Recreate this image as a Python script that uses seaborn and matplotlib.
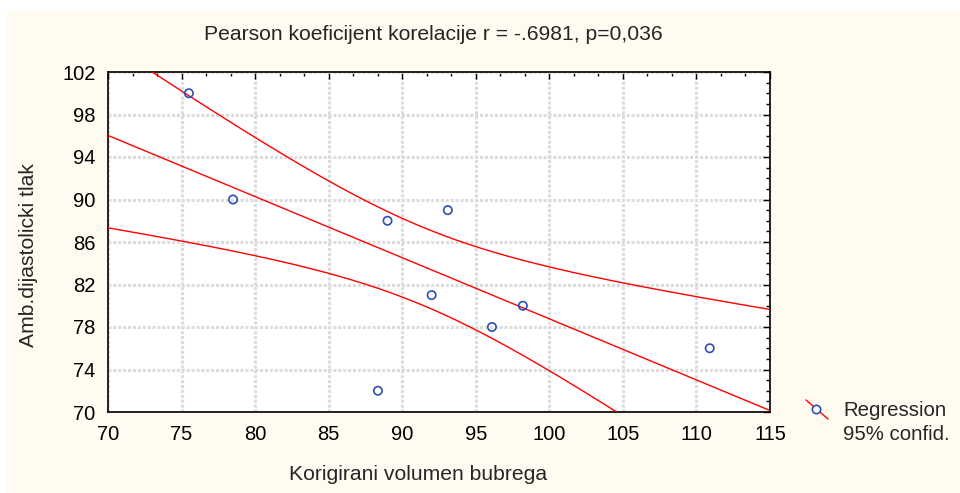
import numpy as np
import pandas as pd
import matplotlib
matplotlib.use("Agg")
import matplotlib.pyplot as plt
from matplotlib.lines import Line2D
from matplotlib.patches import Rectangle
from matplotlib.ticker import MultipleLocator
import seaborn as sns

# --- DATA ---
volumen = [75.5, 78.5, 89.0, 93.1, 88.35, 92.0, 96.1, 98.2, 110.9]
tlak = [100, 90, 88, 89, 72, 81, 78, 80, 76]
x_ticks = [70, 75, 80, 85, 90, 95, 100, 105, 110, 115]
y_ticks = [70, 74, 78, 82, 86, 90, 94, 98, 102]
# band half-width multiplier, matched to the curves as drawn in the reference
BAND_K = 1.66

sns.set_style("white")
plt.rcParams['font.family'] = ['Liberation Sans', 'DejaVu Sans']

df = pd.DataFrame({'x': volumen, 'y': tlak})

# linear fit + band around the mean
n = len(df)
xm, ym = df.x.mean(), df.y.mean()
sxx = ((df.x - xm) ** 2).sum()
b = ((df.x - xm) * (df.y - ym)).sum() / sxx
a = ym - b * xm
s = np.sqrt(((df.y - (a + b * df.x)) ** 2).sum() / (n - 2))
xs = np.linspace(70, 115, 300)
fit = a + b * xs
half = BAND_K * s * np.sqrt(1 / n + (xs - xm) ** 2 / sxx)
lines = pd.DataFrame({'x': np.tile(xs, 3),
                      'y': np.concatenate([fit, fit + half, fit - half]),
                      'part': np.repeat(['fit', 'upper', 'lower'], len(xs))})

fig = plt.figure(figsize=(9.6, 4.93), dpi=100, facecolor='white')
fig.patches.append(Rectangle((7 / 960, 0), 1, (493 - 11) / 493, transform=fig.transFigure,
                             facecolor='#FFFBF1', edgecolor='none', zorder=-10))
ax = fig.add_axes([108 / 960, 1 - 412 / 493, (770 - 108) / 960, (412 - 72) / 493])
ax.set_facecolor('white')

sns.lineplot(data=lines, x='x', y='y', units='part', estimator=None, color='#FF0000',
             lw=1, ax=ax, legend=False, zorder=3)
sns.scatterplot(data=df, x='x', y='y', ax=ax, s=36, facecolor='none',
                edgecolor='#2B4FB5', linewidth=1.2, zorder=4, legend=False)

ax.set_xlim(70, 115)
ax.set_ylim(70, 102)
ax.set_xticks(x_ticks)
ax.set_yticks(y_ticks)
ax.xaxis.set_minor_locator(MultipleLocator(5 / 3))
ax.yaxis.set_minor_locator(MultipleLocator(1))
ax.tick_params(which='both', direction='in', top=True, right=True, labelsize=14.5, colors='black')
ax.tick_params(which='major', length=5, width=1)
ax.tick_params(which='minor', length=3, width=1)
ax.tick_params(axis='y', which='major', pad=9)
ax.tick_params(axis='x', which='major', pad=9)
ax.grid(True, which='major', color='#DCDCDC', linestyle=(0, (1, 0.6)), linewidth=2.2)
for sp in ax.spines.values():
    sp.set_color('black')
    sp.set_linewidth(1.2)

ax.set_xlabel('')
ax.set_ylabel('')
fig.text(433 / 960, 1 - 34 / 493, 'Pearson koeficijent korelacije r = -.6981, p=0,036',
         ha='center', va='center', fontsize=15.2)
fig.text(418 / 960, 1 - 475 / 493, 'Korigirani volumen bubrega', ha='center', va='center', fontsize=15.2)
fig.text(29 / 960, 1 - 255 / 493, 'Amb.dijastolicki tlak', ha='center', va='center',
         rotation=90, fontsize=15.2)

# legend symbol and labels
fig.add_artist(Line2D([806 / 960, 828 / 960], [1 - 400 / 493, 1 - 419 / 493],
                      transform=fig.transFigure, color='#FF0000', lw=1))
fig.add_artist(Line2D([816 / 960], [1 - 409 / 493], transform=fig.transFigure, marker='o',
                      markersize=6, markerfacecolor='white', markeredgecolor='#2B4FB5',
                      markeredgewidth=1.2, linestyle='none'))
fig.text(843 / 960, 1 - 411 / 493, 'Regression', ha='left', va='center', fontsize=14.7)
fig.text(843 / 960, 1 - 434 / 493, '95% confid.', ha='left', va='center', fontsize=14.7)

plt.savefig('out.png', dpi=100, facecolor=fig.get_facecolor())
